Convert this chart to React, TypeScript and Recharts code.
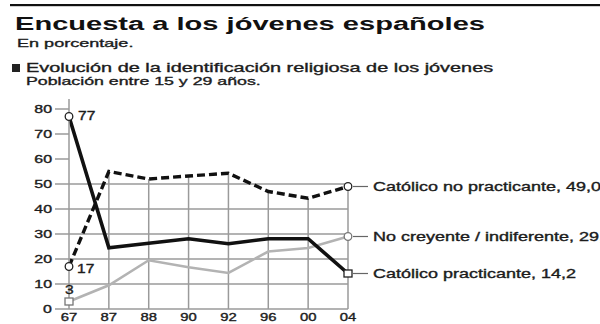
import React from 'react';
import { LineChart, Line, XAxis, YAxis, ReferenceLine } from 'recharts';

const years = ['67', '87', '88', '90', '92', '96', '00', '04'];
const practicante = [77, 24.5, 26.3, 28.1, 26.1, 28.1, 28.1, 14.2];
const noPracticante = [17, 55, 52, 53.2, 54.3, 47, 44.3, 49];
const noCreyente = [3, 9.5, 19.5, 16.7, 14.4, 23, 24.4, 29];
const yTicks = [0, 10, 20, 30, 40, 50, 60, 70, 80];
const gridValues = [10, 20, 30, 40, 50];

const names = {
  practicante: 'Católico practicante',
  noPracticante: 'Católico no practicante',
  noCreyente: 'No creyente / indiferente',
};

const data = years.map((y, i) => ({
  year: y,
  practicante: practicante[i],
  noPracticante: noPracticante[i],
  noCreyente: noCreyente[i],
}));

const FONT = '"Liberation Sans", Arial, sans-serif';
const GRID = '#9a9a9a';
const TXT = '#1c1c1c';
const TS = { stroke: TXT, strokeWidth: 0.35 };

type Cfg = {
  key: 'practicante' | 'noPracticante' | 'noCreyente';
  color: string;
  start: 'circle' | 'square';
  end: 'circle' | 'square';
  sdx: number;
  sdy: number;
};

const cfgs: Record<string, Cfg> = {
  practicante: { key: 'practicante', color: '#111', start: 'circle', end: 'square', sdx: 9, sdy: 3 },
  noPracticante: { key: 'noPracticante', color: '#111', start: 'circle', end: 'circle', sdx: 8, sdy: 6 },
  noCreyente: { key: 'noCreyente', color: '#9c9c9c', start: 'square', end: 'circle', sdx: -4, sdy: -8 },
};

const fmt = (v: number) => v.toFixed(1).replace('.', ',');

const Marker = ({ shape, cx, cy, color }: any) =>
  shape === 'circle' ? (
    <circle cx={cx} cy={cy} r={3.8} fill="#fff" stroke={color === '#9c9c9c' ? '#777' : '#222'} strokeWidth={1.3} />
  ) : (
    <rect x={cx - 4} y={cy - 3.5} width={8} height={7} fill="#fff" stroke={color === '#9c9c9c' ? '#777' : '#222'} strokeWidth={1.3} />
  );

const renderDot = (props: any, cfg: Cfg) => {
  const { cx, cy, index, value } = props;
  const last = years.length - 1;
  if (index === 0) {
    return (
      <g key={`d-${cfg.key}-${index}`}>
        <Marker shape={cfg.start} cx={cx} cy={cy} color={cfg.color} />
        <text
          transform={`translate(${cx + cfg.sdx},${cy + cfg.sdy}) scale(1.3,1)`}
          fontFamily={FONT}
          fontSize={12}
          fill={TXT}
          {...TS}
        >
          {String(value)}
        </text>
      </g>
    );
  }
  if (index === last) {
    return (
      <g key={`d-${cfg.key}-${index}`}>
        <line x1={cx + 5} y1={cy} x2={cx + 20} y2={cy} stroke="#666" strokeWidth={1.2} />
        <Marker shape={cfg.end} cx={cx} cy={cy} color={cfg.color} />
        <text
          transform={`translate(${cx + 25},${cy + 4.5}) scale(1.5,1)`}
          fontFamily={FONT}
          fontSize={12}
          fill={TXT}
          {...TS}
        >
          {`${names[cfg.key]}, ${fmt(value)}`}
        </text>
      </g>
    );
  }
  return <g key={`d-${cfg.key}-${index}`} />;
};

const YTick = (props: any) => {
  const { x, y, payload } = props;
  return (
    <text
      transform={`translate(${x},${y + 4}) scale(1.45,1)`}
      textAnchor="end"
      fontFamily={FONT}
      fontSize={11}
      fill={TXT}
      {...TS}
    >
      {payload.value}
    </text>
  );
};

const XTick = (props: any) => {
  const { x, y, payload } = props;
  return (
    <text
      transform={`translate(${x},${y + 4}) scale(1.35,1)`}
      textAnchor="middle"
      fontFamily={FONT}
      fontSize={11}
      fill={TXT}
      {...TS}
    >
      {payload.value}
    </text>
  );
};

const tops = years.map((_, i) => Math.max(practicante[i], noPracticante[i], noCreyente[i]));

export default function App() {
  return (
    <div style={{ position: 'absolute', left: 0, top: 0, width: 600, height: 324, background: '#fff', overflow: 'hidden' }}>
      <svg width={600} height={324} style={{ position: 'absolute', left: 0, top: 0 }}>
        <rect x={10} y={4} width={590} height={2.2} fill="#111" />
        <text transform="translate(15,29.5) scale(1.53,1)" fontFamily={FONT} fontWeight="bold" fontSize={19} fill="#111">
          Encuesta a los jóvenes españoles
        </text>
        <text transform="translate(17,46.5) scale(1.53,1)" fontFamily={FONT} fontSize={11.8} fill={TXT} {...TS}>
          En porcentaje.
        </text>
        <rect x={12} y={64} width={8} height={8} fill="#222" />
        <text transform="translate(26,71.5) scale(1.59,1)" fontFamily={FONT} fontSize={12.5} fill={TXT} {...TS}>
          Evolución de la identificación religiosa de los jóvenes
        </text>
        <text transform="translate(26,85) scale(1.53,1)" fontFamily={FONT} fontSize={11.6} fill={TXT} {...TS}>
          Población entre 15 y 29 años.
        </text>
      </svg>
      <div style={{ position: 'absolute', left: 0, top: 0 }}>
        <LineChart width={600} height={324} data={data} margin={{ top: 99, right: 252, bottom: 0, left: 0 }}>
          <XAxis
            dataKey="year"
            height={15}
            axisLine={{ stroke: GRID, strokeWidth: 1.5 }}
            tickLine={false}
            tick={<XTick />}
            interval={0}
          />
          <YAxis
            width={69}
            domain={[0, 84]}
            ticks={yTicks}
            type="number"
            axisLine={{ stroke: GRID, strokeWidth: 1.5 }}
            tickLine={{ stroke: GRID, strokeWidth: 1.5 }}
            tickSize={14}
            tickMargin={3}
            tick={<YTick />}
            interval={0}
          />
          {gridValues.map((v) => (
            <ReferenceLine key={`h${v}`} y={v} stroke={GRID} strokeWidth={1.5} />
          ))}
          {years.slice(1).map((yr, i) => (
            <ReferenceLine
              key={`v${yr}`}
              segment={[{ x: yr, y: 0 }, { x: yr, y: tops[i + 1] }]}
              stroke={GRID}
              strokeWidth={1.5}
            />
          ))}
          <Line
            dataKey="noCreyente"
            stroke="#b3b3b3"
            strokeWidth={2.6}
            isAnimationActive={false}
            activeDot={false}
            dot={(p: any) => renderDot(p, cfgs.noCreyente)}
          />
          <Line
            dataKey="noPracticante"
            stroke="#111"
            strokeWidth={3.4}
            strokeDasharray="8 4"
            isAnimationActive={false}
            activeDot={false}
            dot={(p: any) => renderDot(p, cfgs.noPracticante)}
          />
          <Line
            dataKey="practicante"
            stroke="#111"
            strokeWidth={3.6}
            isAnimationActive={false}
            activeDot={false}
            dot={(p: any) => renderDot(p, cfgs.practicante)}
          />
        </LineChart>
      </div>
    </div>
  );
}
